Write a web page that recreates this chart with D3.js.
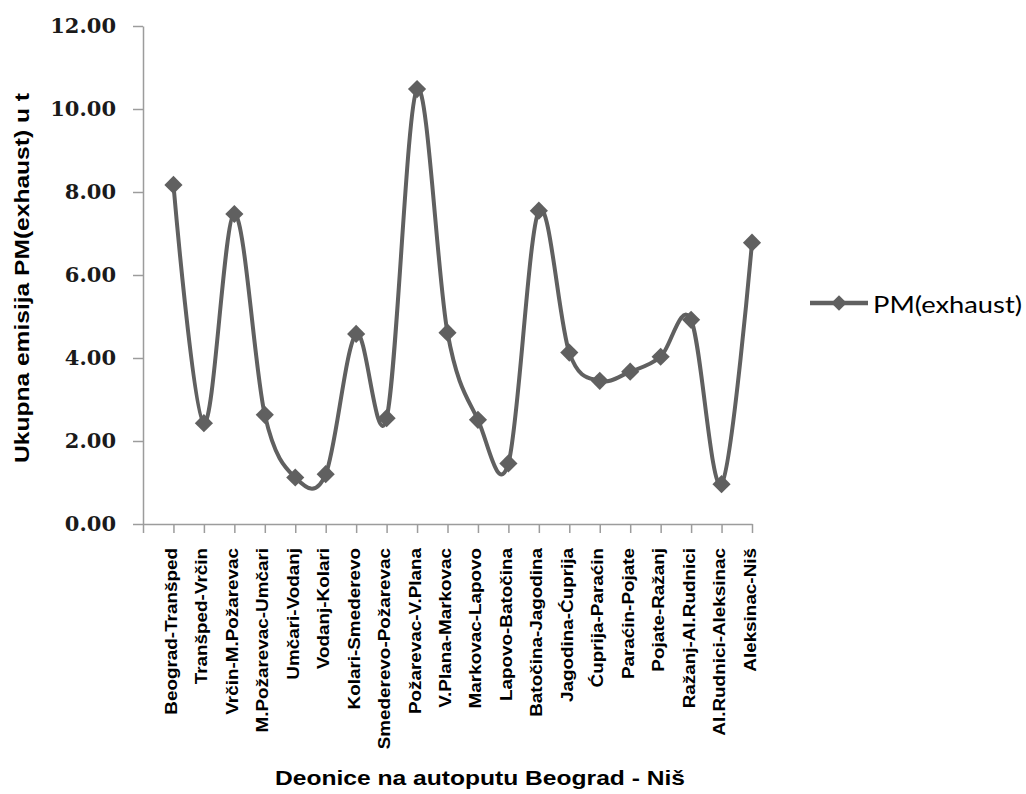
<!DOCTYPE html>
<html>
<head>
<meta charset="utf-8">
<script src="https://cdn.jsdelivr.net/npm/d3@7"></script>
<style>
  html, body { margin: 0; padding: 0; background: #ffffff; }
  svg { display: block; }
</style>
</head>
<body>
<svg id="chart" width="1026" height="794"></svg>
<script>
// ---- data ----
const categories = [
  "Beograd-Tranšped", "Tranšped-Vrčin", "Vrčin-M.Požarevac", "M.Požarevac-Umčari",
  "Umčari-Vodanj", "Vodanj-Kolari", "Kolari-Smederevo", "Smederevo-Požarevac",
  "Požarevac-V.Plana", "V.Plana-Markovac", "Markovac-Lapovo", "Lapovo-Batočina",
  "Batočina-Jagodina", "Jagodina-Ćuprija", "Ćuprija-Paraćin", "Paraćin-Pojate",
  "Pojate-Ražanj", "Ražanj-Al.Rudnici", "Al.Rudnici-Aleksinac", "Aleksinac-Niš"
];
const values = [8.17, 2.43, 7.47, 2.63, 1.12, 1.20, 4.58, 2.55, 10.48, 4.61,
                2.51, 1.46, 7.55, 4.13, 3.45, 3.67, 4.03, 4.92, 0.96, 6.78];
const yTicks = [0, 2, 4, 6, 8, 10, 12];
const seriesName = "PM(exhaust)";
const xTitle = "Deonice na autoputu Beograd - Niš";
const yTitle = "Ukupna emisija PM(exhaust) u t";

// ---- layout ----
const svg = d3.select("#chart");
const lineColor = "#606060";
const axisColor = "#9c9c9c";

const x = d3.scalePoint().domain(["", ...categories]).range([143, 752]);
const y = d3.scaleLinear().domain([0, 12]).range([524, 26]);

// Y axis
const yAxis = svg.append("g")
  .attr("transform", `translate(${x("")},0)`)
  .call(d3.axisLeft(y).tickValues(yTicks).tickSize(10).tickSizeOuter(0)
        .tickPadding(17).tickFormat(d3.format(".2f")));
yAxis.selectAll("path, line").attr("stroke", axisColor).attr("stroke-width", 1.5);
yAxis.selectAll("text")
  .attr("font-family", "'DejaVu Serif', serif")
  .attr("font-weight", "bold")
  .attr("font-size", 21)
  .attr("fill", "#1a1a1a");

// X axis
const xAxis = svg.append("g")
  .attr("transform", `translate(0,${y(0)})`)
  .call(d3.axisBottom(x).tickSize(9).tickSizeOuter(0));
xAxis.selectAll("path, line").attr("stroke", axisColor).attr("stroke-width", 1.5);
const sx = 1.18;
xAxis.selectAll("text")
  .attr("font-family", "'Liberation Sans', Arial, sans-serif")
  .attr("font-weight", "bold")
  .attr("font-size", 16)
  .attr("fill", "#000")
  .attr("text-anchor", "end")
  .attr("dy", null)
  .attr("x", -24 / sx)
  .attr("y", 3)
  .attr("transform", `rotate(-90) scale(${sx},1)`);

// line
const line = d3.line()
  .x((d, i) => x(categories[i]))
  .y(d => y(d))
  .curve(d3.curveCardinal.tension(0));

svg.append("path")
  .datum(values)
  .attr("fill", "none")
  .attr("stroke", lineColor)
  .attr("stroke-width", 4)
  .attr("stroke-linejoin", "round")
  .attr("d", line);

// markers
const diamond = d3.symbol().type(d3.symbolSquare).size(165);
svg.append("g").selectAll("path")
  .data(values)
  .join("path")
  .attr("d", diamond)
  .attr("fill", lineColor)
  .attr("transform", (d, i) => `translate(${x(categories[i])},${y(d)}) rotate(45)`);

// axis titles
svg.append("text")
  .attr("x", 480).attr("y", 785)
  .attr("text-anchor", "middle")
  .attr("font-family", "'Liberation Sans', Arial, sans-serif")
  .attr("font-weight", "bold")
  .attr("font-size", 20)
  .attr("textLength", 410)
  .attr("lengthAdjust", "spacingAndGlyphs")
  .text(xTitle);

svg.append("text")
  .attr("transform", "translate(28.5,278) rotate(-90)")
  .attr("text-anchor", "middle")
  .attr("font-family", "'Liberation Sans', Arial, sans-serif")
  .attr("font-weight", "bold")
  .attr("font-size", 21)
  .attr("textLength", 370)
  .attr("lengthAdjust", "spacingAndGlyphs")
  .text(yTitle);

// legend
const lg = svg.append("g");
lg.append("line")
  .attr("x1", 810).attr("x2", 868).attr("y1", 303).attr("y2", 303)
  .attr("stroke", lineColor).attr("stroke-width", 4.5);
lg.append("path")
  .attr("d", d3.symbol().type(d3.symbolSquare).size(120))
  .attr("fill", lineColor)
  .attr("transform", "translate(839,303) rotate(45)");
lg.append("text")
  .attr("x", 873).attr("y", 312.5)
  .attr("font-family", "Lato, 'Open Sans', sans-serif")
  .attr("font-size", 24)
  .attr("fill", "#000")
  .attr("textLength", 149)
  .attr("lengthAdjust", "spacingAndGlyphs")
  .text(seriesName);
</script>
</body>
</html>
